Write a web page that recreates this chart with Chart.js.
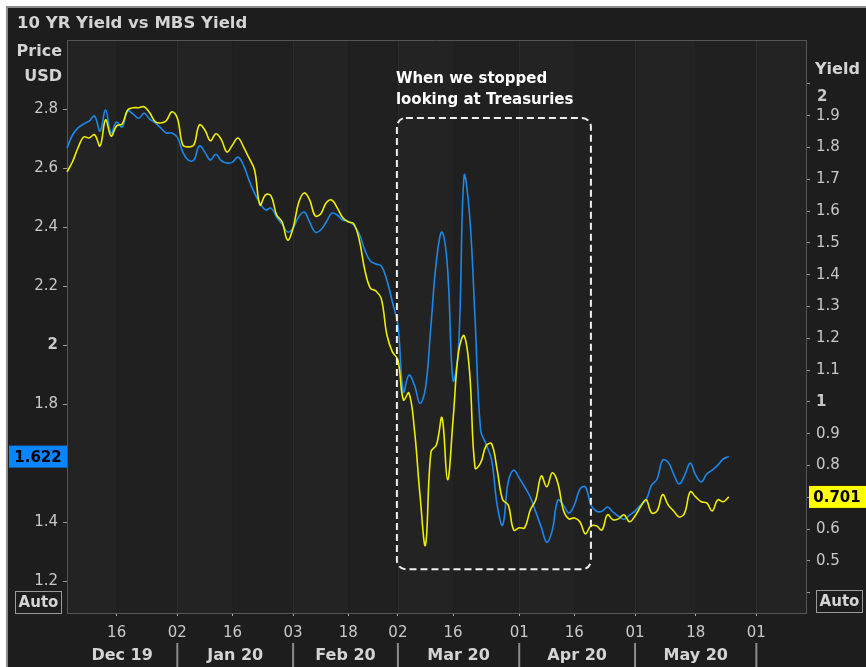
<!DOCTYPE html>
<html>
<head>
<meta charset="utf-8">
<script src="https://cdn.jsdelivr.net/npm/chart.js@4.4.0/dist/chart.umd.min.js"></script>
<style>
html, body { margin: 0; padding: 0; background: #fff; }
canvas { display: block; }
</style>
</head>
<body>
<canvas id="myChart" width="866" height="667"></canvas>
<script>
// trading days on the x axis, month by month (future days padded at the end)
var decDays = [3,4,5,6,9,10,11,12,13,16,17,18,19,20,23,24,26,27,30,31];
var janDays = [2,3,6,7,8,9,10,13,14,15,16,17,21,22,23,24,27,28,29,30,31];
var febDays = [3,4,5,6,7,10,11,12,13,14,18,19,20,21,24,25,26,27,28];
var marDays = [2,3,4,5,6,9,10,11,12,13,16,17,18,19,20,23,24,25,26,27,30,31];
var aprDays = [1,2,3,6,7,8,9,13,14,15,16,17,20,21,22,23,24,27,28,29,30];
var mayDays = [1,4,5,6,7,8,11,12,13,14,15,18,19,20,21,22,26,27,28,29,30,31];
var junDays = [1,2,3,4,5,6,7,8,9,10];
var calendar = [['2019-12', decDays], ['2020-01', janDays], ['2020-02', febDays],
                ['2020-03', marDays], ['2020-04', aprDays], ['2020-05', mayDays], ['2020-06', junDays]];

var xTickDates = ['2019-12-16','2020-01-02','2020-01-16','2020-02-03','2020-02-18','2020-03-02',
                  '2020-03-16','2020-04-01','2020-04-16','2020-05-01','2020-05-18','2020-06-01'];
var monthLabels = ['Dec 19','Jan 20','Feb 20','Mar 20','Apr 20','May 20'];
var monthStarts = ['2019-12-03','2020-01-02','2020-02-03','2020-03-02','2020-04-01','2020-05-01','2020-06-01'];

var priceTicks = [1.2, 1.4, 1.6, 1.8, 2.0, 2.2, 2.4, 2.6, 2.8];
var yieldTicks = [0.4, 0.5, 0.6, 0.7, 0.8, 0.9, 1.0, 1.1, 1.2, 1.3, 1.4, 1.5, 1.6, 1.7, 1.8, 1.9, 2.0];

// blue line, left axis
var mbsYield = [2.668,2.712,2.736,2.749,2.759,2.776,2.725,2.797,2.719,2.756,
  2.739,2.793,2.783,2.769,2.786,2.766,2.753,2.736,2.719,2.719,
  2.705,2.654,2.627,2.627,2.675,2.654,2.627,2.647,2.624,2.617,
  2.620,2.637,2.610,2.559,2.515,2.481,2.458,2.464,2.434,2.410,
  2.383,2.397,2.434,2.451,2.417,2.383,2.390,2.417,2.447,2.441,
  2.424,2.420,2.407,2.376,2.322,2.285,2.275,2.268,2.220,2.146,
  2.068,1.841,1.898,1.864,1.803,1.854,2.068,2.288,2.383,2.261,
  1.881,1.993,2.573,2.441,2.085,1.712,1.664,1.610,1.458,1.390,
  1.536,1.576,1.549,1.519,1.485,1.434,1.383,1.332,1.373,1.475,
  1.458,1.431,1.458,1.512,1.519,1.458,1.437,1.437,1.451,1.434,
  1.420,1.410,1.424,1.437,1.458,1.475,1.525,1.546,1.610,1.603,
  1.563,1.529,1.559,1.600,1.559,1.536,1.563,1.576,1.593,1.614,
  1.622];

// yellow line, right axis
var tenYrYield = [1.723,1.755,1.799,1.833,1.830,1.840,1.805,1.887,1.836,1.868,
  1.874,1.918,1.925,1.925,1.928,1.909,1.881,1.877,1.884,1.912,
  1.893,1.808,1.802,1.808,1.871,1.855,1.821,1.843,1.824,1.786,
  1.808,1.830,1.802,1.767,1.730,1.619,1.651,1.648,1.588,1.566,
  1.509,1.547,1.626,1.657,1.635,1.585,1.591,1.626,1.635,1.610,
  1.579,1.566,1.560,1.509,1.415,1.358,1.349,1.324,1.211,1.157,
  1.132,1.006,1.028,0.912,0.708,0.550,0.843,0.865,0.950,0.755,
  0.943,1.157,1.208,1.094,0.792,0.808,0.862,0.868,0.786,0.692,
  0.676,0.597,0.604,0.604,0.660,0.692,0.767,0.733,0.777,0.745,
  0.660,0.632,0.635,0.623,0.585,0.610,0.610,0.597,0.645,0.629,
  0.632,0.645,0.623,0.641,0.670,0.692,0.651,0.657,0.708,0.676,
  0.657,0.638,0.651,0.717,0.701,0.686,0.682,0.657,0.692,0.686,
  0.701];

var boxFrom = '2020-03-02', boxTo = '2020-04-21', boxTop = 2.77, boxBottom = 1.24;
var noteLines = ['When we stopped', 'looking at Treasuries'];

var blueColor = '#1c87ea';
var yellowColor = '#eeee00';
var fam = '"DejaVu Sans", Verdana, sans-serif';

var days = [];
calendar.forEach(function (m) {
  m[1].forEach(function (d) { days.push(m[0] + '-' + (d < 10 ? '0' + d : d)); });
});

function isWhole(v) { return Math.abs(v - Math.round(v)) < 1e-6; }
function tickFont(c) {
  var v = c.tick ? c.tick.value : 0;
  return { family: fam, size: 15, weight: isWhole(v) ? 'bold' : 'normal' };
}

var decorPlugin = {
  id: 'decor',
  beforeDraw: function (chart) {
    var ctx = chart.ctx, a = chart.chartArea, xs = chart.scales.x;
    ctx.save();
    ctx.fillStyle = '#ffffff';
    ctx.fillRect(0, 0, chart.width, chart.height);
    ctx.fillStyle = '#1d1d1d';
    ctx.fillRect(7, 7, chart.width, chart.height);
    ctx.strokeStyle = '#8c8c8c';
    ctx.lineWidth = 2;
    ctx.beginPath();
    ctx.moveTo(7, chart.height); ctx.lineTo(7, 7); ctx.lineTo(chart.width, 7);
    ctx.stroke();
    // shaded bands between the date ticks
    var edges = [a.left];
    xTickDates.forEach(function (d) {
      var p = xs.getPixelForValue(days.indexOf(d));
      if (p < a.right) edges.push(p);
    });
    edges.push(a.right);
    for (var i = 0; i < edges.length - 1; i++) {
      ctx.fillStyle = i % 2 === 0 ? '#232323' : '#202020';
      ctx.fillRect(edges[i], a.top, edges[i + 1] - edges[i], a.bottom - a.top);
    }
    ctx.strokeStyle = '#2c2c2c';
    ctx.lineWidth = 1;
    monthStarts.slice(1).forEach(function (d) {
      var p = Math.round(xs.getPixelForValue(days.indexOf(d))) + 0.5;
      ctx.beginPath(); ctx.moveTo(p, a.top); ctx.lineTo(p, a.bottom); ctx.stroke();
    });
    ctx.restore();
  },
  afterDraw: function (chart) {
    var ctx = chart.ctx, a = chart.chartArea;
    var xs = chart.scales.x, yl = chart.scales.y, yr = chart.scales.y1;
    ctx.save();

    // top edge of the plot
    ctx.strokeStyle = '#555';
    ctx.lineWidth = 1;
    ctx.beginPath(); ctx.moveTo(a.left, a.top + 0.5); ctx.lineTo(a.right, a.top + 0.5); ctx.stroke();

    ctx.textBaseline = 'middle';
    ctx.fillStyle = '#d4d4d4';
    ctx.font = 'bold 16.5px ' + fam;
    ctx.textAlign = 'left';
    ctx.fillText('10 YR Yield vs MBS Yield', 17, 24);
    ctx.font = 'bold 16px ' + fam;
    ctx.textAlign = 'right';
    ctx.fillText('Price', 62, 52);
    ctx.fillText('USD', 62, 77);
    ctx.textAlign = 'left';
    ctx.fillText('Yield', 815, 70);
    ctx.fillStyle = '#c8c8c8';
    ctx.font = 'bold 15px ' + fam;
    ctx.fillText('2', 817, 97);

    // Auto boxes
    ctx.strokeStyle = '#9a9a9a';
    ctx.lineWidth = 1;
    ctx.strokeRect(15.5, 591.5, 46, 22);
    ctx.strokeRect(816.5, 590.5, 46, 22);
    ctx.fillStyle = '#d4d4d4';
    ctx.font = 'bold 15px ' + fam;
    ctx.textAlign = 'center';
    ctx.fillText('Auto', 38.5, 603);
    ctx.fillText('Auto', 839.5, 602);

    // month row
    ctx.font = 'bold 16px ' + fam;
    ctx.fillStyle = '#d4d4d4';
    for (var i = 0; i < monthLabels.length; i++) {
      var p0 = i === 0 ? a.left : xs.getPixelForValue(days.indexOf(monthStarts[i]));
      var p1 = xs.getPixelForValue(days.indexOf(monthStarts[i + 1]));
      ctx.fillText(monthLabels[i], (p0 + p1) / 2, 656);
    }
    ctx.strokeStyle = '#8c8c8c';
    ctx.lineWidth = 2;
    monthStarts.slice(1).forEach(function (d) {
      var p = xs.getPixelForValue(days.indexOf(d));
      ctx.beginPath(); ctx.moveTo(p, 643); ctx.lineTo(p, 667); ctx.stroke();
    });

    // annotation box
    var bx0 = xs.getPixelForValue(days.indexOf(boxFrom)) - 1;
    var bx1 = xs.getPixelForValue(days.indexOf(boxTo));
    var by0 = yl.getPixelForValue(boxTop), by1 = yl.getPixelForValue(boxBottom);
    ctx.strokeStyle = '#f0f0f0';
    ctx.lineWidth = 2;
    ctx.setLineDash([7, 4]);
    ctx.beginPath();
    ctx.roundRect(bx0, by0, bx1 - bx0, by1 - by0, 9);
    ctx.stroke();
    ctx.setLineDash([]);
    ctx.fillStyle = '#ffffff';
    ctx.font = 'bold 15px ' + fam;
    ctx.textAlign = 'left';
    ctx.fillText(noteLines[0], bx0 - 1, by0 - 39);
    ctx.fillText(noteLines[1], bx0 - 1, by0 - 18);

    // last value tags
    var lastBlue = mbsYield[mbsYield.length - 1];
    var lastYellow = tenYrYield[tenYrYield.length - 1];
    var yb = yl.getPixelForValue(lastBlue), yy = yr.getPixelForValue(lastYellow);
    ctx.font = 'bold 15px ' + fam;
    ctx.fillStyle = '#0a84ff';
    ctx.fillRect(9, yb - 11, 58, 22);
    ctx.fillStyle = '#000';
    ctx.textAlign = 'center';
    ctx.fillText(lastBlue.toFixed(3), 38, yb + 1);
    ctx.fillStyle = '#ffff00';
    ctx.fillRect(809, yy - 11, 57, 22);
    ctx.fillStyle = '#000';
    ctx.fillText(lastYellow.toFixed(3), 837, yy + 1);
    ctx.restore();
  }
};

const ctx = document.getElementById('myChart').getContext('2d');
const myChart = new Chart(ctx, {
  type: 'line',
  data: {
    labels: days,
    datasets: [{
      label: '10 YR Yield',
      data: tenYrYield,
      yAxisID: 'y1',
      borderColor: yellowColor,
      borderWidth: 1.6,
      pointRadius: 0,
      tension: 0.4
    }, {
      label: 'MBS Yield',
      data: mbsYield,
      yAxisID: 'y',
      borderColor: blueColor,
      borderWidth: 1.6,
      pointRadius: 0,
      tension: 0.4
    }]
  },
  options: {
    responsive: false,
    animation: false,
    layout: { padding: 0 },
    plugins: {
      legend: { display: false },
      tooltip: { enabled: false },
      title: { display: true, text: ' ', font: { size: 16, lineHeight: 1.25 }, padding: { top: 10, bottom: 10 } }
    },
    scales: {
      x: {
        type: 'category',
        offset: false,
        afterBuildTicks: function (s) {
          s.ticks = xTickDates.map(function (d) { return { value: days.indexOf(d) }; });
        },
        afterFit: function (s) { s.height = 54; },
        grid: { display: true, drawOnChartArea: false, drawTicks: true, tickLength: 3, color: '#b0b0b0' },
        border: { display: true, color: '#555' },
        ticks: {
          autoSkip: false, maxRotation: 0, color: '#c8c8c8', padding: 8,
          font: { family: fam, size: 15 },
          callback: function (v) { return days[v].slice(8); }
        }
      },
      y: {
        position: 'left',
        min: 1.092, max: 3.034,
        afterBuildTicks: function (s) { s.ticks = priceTicks.map(function (v) { return { value: v }; }); },
        afterFit: function (s) { s.width = 67; },
        grid: { display: true, drawOnChartArea: false, drawTicks: true, tickLength: 4, color: '#9a9a9a' },
        border: { display: true, color: '#555' },
        ticks: {
          color: '#c8c8c8', padding: 5, font: tickFont,
          callback: function (v) { return String(Math.round(v * 10) / 10); }
        }
      },
      y1: {
        position: 'right',
        min: 0.336, max: 2.138,
        afterBuildTicks: function (s) { s.ticks = yieldTicks.map(function (v) { return { value: v }; }); },
        afterFit: function (s) { s.width = 60; },
        grid: { display: true, drawOnChartArea: false, drawTicks: true, tickLength: 4, color: '#9a9a9a' },
        border: { display: true, color: '#555' },
        ticks: {
          color: '#c8c8c8', padding: 6, font: tickFont,
          callback: function (v) {
            if (Math.abs(v - 0.4) < 1e-6 || Math.abs(v - 2) < 1e-6) return '';
            return String(Math.round(v * 10) / 10);
          }
        }
      }
    }
  },
  plugins: [decorPlugin]
});
</script>
</body>
</html>
